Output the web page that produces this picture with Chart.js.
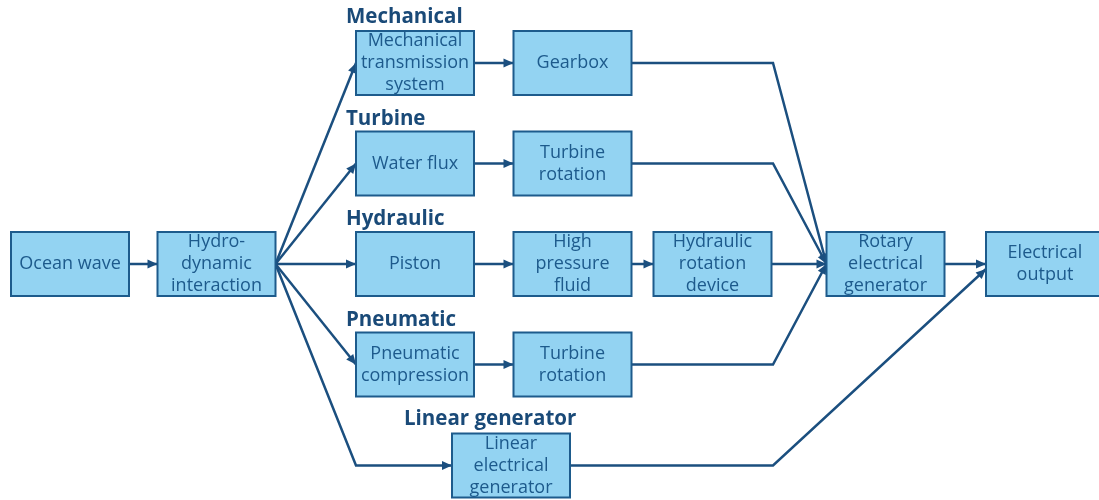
<!DOCTYPE html>
<html><head><meta charset="utf-8">
<script src="https://cdn.jsdelivr.net/npm/chart.js@4/dist/chart.umd.min.js"></script>
<style>html,body{margin:0;padding:0;background:#fff}#wrap{width:1099px;height:500px}</style>
</head><body><div id="wrap"><canvas id="c" width="1099" height="500"></canvas></div>
<script>
// Nodes (centres in diagram units)
const nodeLabels = [
  "Ocean wave", "Hydro-\ndynamic\ninteraction",
  "Mechanical\ntransmission\nsystem", "Gearbox",
  "Water flux", "Turbine\nrotation",
  "Piston", "High\npressure\nfluid", "Hydraulic\nrotation\ndevice",
  "Rotary\nelectrical\ngenerator", "Electrical\noutput",
  "Pneumatic\ncompression", "Turbine\nrotation",
  "Linear\nelectrical\ngenerator"
];
const nodeX = [70, 216.5, 415, 572.5, 415, 572.5, 415, 572.5, 712.5, 885.5, 1045, 415, 572.5, 511];
const nodeY = [264, 264, 63, 63, 163.5, 163.5, 264, 264, 264, 264, 264, 364.5, 364.5, 465.5];

// Group headings
const groupLabels = ["Mechanical", "Turbine", "Hydraulic", "Pneumatic", "Linear generator"];
const groupX = [346, 346, 346, 346, 404];
const groupY = [17, 119, 219, 320, 419];

// Edges: from node, to node, bend x (null = straight), bend mode
const edgeFrom = [0, 1, 1, 1, 1, 1, 2, 4, 6, 7, 11, 3, 5, 8, 12, 9, 13];
const edgeTo   = [1, 2, 4, 6, 11, 13, 3, 5, 7, 8, 12, 9, 9, 9, 9, 10, 10];
const edgeBendX = [null, null, null, null, null, 356, null, null, null, null, null, 773, 773, null, 773, null, 773];
const edgeBendMode = ["", "", "", "", "", "after", "", "", "", "", "", "before", "before", "", "before", "", "before"];
const edgeEndDy = [0, 0, 0, 0, 0, 0, 0, 0, 0, 0, 0, 0, 0, 0, 0, 0, 5];

const BOX_W = 118, BOX_H = 64;
const LINE = '#1b4f7f', FILL = '#93d3f2', BORDER = '#1d5b8c', TEXT = '#1d5a8c', HEAD = '#1a4a78';
const FONT = '"Open Sans", "Noto Sans", sans-serif';

function edgePoints(i) {
  const a = edgeFrom[i], b = edgeTo[i];
  const s = {x: nodeX[a] + BOX_W / 2, y: nodeY[a]};
  const e = {x: nodeX[b] - BOX_W / 2, y: nodeY[b] + edgeEndDy[i]};
  const pts = [s];
  if (edgeBendX[i] !== null) {
    if (edgeBendMode[i] === 'before') pts.push({x: edgeBendX[i], y: s.y});
    else pts.push({x: edgeBendX[i], y: e.y});
  }
  pts.push(e);
  return pts;
}

const datasets = edgeFrom.map((f, i) => ({
  data: edgePoints(i), showLine: true, borderColor: LINE, borderWidth: 2.5,
  pointRadius: 0, fill: false, tension: 0
}));

const diagram = {
  id: 'diagram',
  afterDatasetsDraw(chart) {
    const ctx = chart.ctx, xs = chart.scales.x, ys = chart.scales.y;
    ctx.save();
    // arrowheads
    chart.data.datasets.forEach(ds => {
      const n = ds.data.length;
      const p1 = ds.data[n - 2], p2 = ds.data[n - 1];
      const x1 = xs.getPixelForValue(p1.x), y1 = ys.getPixelForValue(p1.y);
      const x2 = xs.getPixelForValue(p2.x), y2 = ys.getPixelForValue(p2.y);
      const ang = Math.atan2(y2 - y1, x2 - x1);
      const L = 10, W = 4.5;
      ctx.fillStyle = LINE;
      ctx.beginPath();
      ctx.moveTo(x2, y2);
      ctx.lineTo(x2 - L * Math.cos(ang) + W * Math.sin(ang), y2 - L * Math.sin(ang) - W * Math.cos(ang));
      ctx.lineTo(x2 - L * Math.cos(ang) - W * Math.sin(ang), y2 - L * Math.sin(ang) + W * Math.cos(ang));
      ctx.closePath();
      ctx.fill();
    });
    // boxes
    nodeLabels.forEach((lab, i) => {
      const l = xs.getPixelForValue(nodeX[i] - BOX_W / 2), r = xs.getPixelForValue(nodeX[i] + BOX_W / 2);
      const t = ys.getPixelForValue(nodeY[i] - BOX_H / 2), b = ys.getPixelForValue(nodeY[i] + BOX_H / 2);
      ctx.fillStyle = FILL;
      ctx.fillRect(l, t, r - l, b - t);
      ctx.strokeStyle = BORDER; ctx.lineWidth = 2;
      ctx.strokeRect(l, t, r - l, b - t);
      const lines = lab.split('\n');
      ctx.fillStyle = TEXT; ctx.font = '18px ' + FONT;
      ctx.textAlign = 'center'; ctx.textBaseline = 'middle';
      const lh = 22, cx = (l + r) / 2, cy = (t + b) / 2;
      lines.forEach((s, k) => ctx.fillText(s, cx, cy + (k - (lines.length - 1) / 2) * lh));
    });
    // headings
    ctx.fillStyle = HEAD; ctx.font = 'bold 20.5px ' + FONT;
    ctx.textAlign = 'left'; ctx.textBaseline = 'middle';
    groupLabels.forEach((g, i) => ctx.fillText(g, xs.getPixelForValue(groupX[i]), ys.getPixelForValue(groupY[i])));
    ctx.restore();
  }
};

new Chart(document.getElementById('c'), {
  type: 'scatter',
  data: {datasets},
  options: {
    responsive: false, animation: false, devicePixelRatio: 1,
    layout: {padding: 0},
    scales: {
      x: {type: 'linear', min: 0, max: 1099, display: false},
      y: {type: 'linear', min: 0, max: 500, reverse: true, display: false}
    },
    plugins: {legend: {display: false}, tooltip: {enabled: false}}
  },
  plugins: [diagram]
});
</script></body></html>
